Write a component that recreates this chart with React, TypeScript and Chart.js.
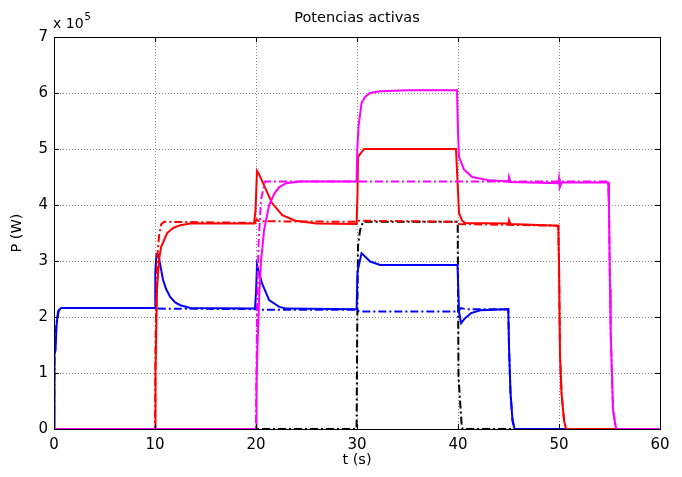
import React, { useEffect, useRef } from "react";
import { Chart, registerables } from "chart.js";

Chart.register(...registerables);

type Pt = [number, number];

// Axis ticks and texts
const X_TICKS = [0, 10, 20, 30, 40, 50, 60];
const Y_TICKS = [0, 1, 2, 3, 4, 5, 6, 7];
const TITLE = "Potencias activas";
const X_LABEL = "t (s)";
const Y_LABEL = "P (W)";
const Y_MULT = "x 10";
const Y_EXP = "5";

// Active powers, P in units of 10^5 W, t in s
const blueSolid: Pt[] = [
  [0, 0], [0.05, 1.35], [0.15, 1.4], [0.25, 1.85], [0.4, 2.1], [0.7, 2.16], [10, 2.16],
  [10.03, 2.8], [10.15, 3.12], [10.35, 3.1], [10.6, 2.85], [10.8, 2.66], [11.1, 2.5],
  [11.5, 2.36], [12, 2.26], [12.5, 2.21], [13.5, 2.16], [19.9, 2.15], [20, 2.43],
  [20.1, 2.93], [20.6, 2.6], [21.3, 2.3], [22.3, 2.18], [23, 2.15], [29.96, 2.14],
  [30.05, 2.81], [30.45, 3.14], [31.3, 2.99], [32.3, 2.93], [39.95, 2.93], [40.1, 2.1],
  [40.3, 1.89], [40.7, 1.98], [41.3, 2.07], [42.2, 2.12], [44.98, 2.14], [45.05, 1.47],
  [45.2, 0.64], [45.4, 0.15], [45.6, 0], [60, 0],
];
const blueDash: Pt[] = [
  [0, 0], [0.05, 1.35], [0.25, 1.9], [0.5, 2.14], [0.8, 2.16], [10, 2.16], [10.1, 2.22],
  [10.3, 2.15], [20, 2.14], [20.1, 2.18], [20.3, 2.13], [30, 2.13], [30.2, 2.1], [40, 2.1],
  [40.1, 2.12], [40.3, 2.16], [40.8, 2.14], [44.98, 2.14], [45.05, 1.47], [45.2, 0.64],
  [45.4, 0.15], [45.6, 0], [60, 0],
];
const redSolid: Pt[] = [
  [0, 0], [10, 0], [10.05, 1.0], [10.2, 2.5], [10.4, 3.02], [10.6, 3.25], [11.2, 3.5],
  [11.8, 3.59], [12.5, 3.64], [13.5, 3.67], [19.8, 3.67], [19.95, 3.9], [20.1, 4.61],
  [20.3, 4.55], [21, 4.27], [21.6, 4.03], [22.6, 3.82], [23.9, 3.72], [26, 3.67],
  [29.96, 3.66], [30.05, 4.2], [30.1, 4.86], [30.7, 5.0], [39.8, 5.0], [40.1, 3.86],
  [40.4, 3.72], [40.7, 3.68], [45, 3.67], [45.05, 3.73], [45.2, 3.66], [49.93, 3.63],
  [50.0, 2.96], [50.1, 1.32], [50.25, 0.64], [50.5, 0.15], [50.7, 0], [60, 0],
];
const redDash: Pt[] = [
  [0, 0], [10, 0], [10.05, 1.5], [10.2, 3.0], [10.4, 3.45], [10.6, 3.65], [10.9, 3.7],
  [19.9, 3.68], [20.05, 3.74], [20.3, 3.71], [30, 3.7], [30.1, 3.72], [39.9, 3.7],
  [40.1, 3.66], [49.93, 3.63], [50.0, 2.96], [50.1, 1.32], [50.25, 0.64], [50.5, 0.15],
  [50.7, 0], [60, 0],
];
const magentaSolid: Pt[] = [
  [0, 0], [20, 0], [20.05, 0.8], [20.15, 1.5], [20.3, 2.3], [20.5, 3.0], [20.8, 3.55],
  [21.3, 4.0], [21.8, 4.2], [22.3, 4.32], [23, 4.39], [24.3, 4.42], [29.96, 4.42],
  [30.03, 5.0], [30.15, 5.4], [30.45, 5.82], [30.8, 5.93], [31.3, 6.0], [32.3, 6.03],
  [35, 6.05], [39.9, 6.05], [40.0, 5.3], [40.1, 4.86], [40.6, 4.63], [41.4, 4.5],
  [43.1, 4.44], [45, 4.42], [45.05, 4.5], [45.2, 4.41], [49.95, 4.39], [50.0, 4.47],
  [50.08, 4.32], [50.25, 4.4], [54.88, 4.4], [54.95, 3.91], [55.05, 2.5], [55.12, 1.71],
  [55.35, 0.34], [55.6, 0.05], [55.7, 0], [60, 0],
];
const magentaDash: Pt[] = [
  [0, 0], [20, 0], [20.1, 2.0], [20.25, 3.3], [20.5, 4.1], [20.9, 4.42], [54.88, 4.42],
  [54.95, 3.91], [55.05, 2.5], [55.12, 1.71], [55.35, 0.34], [55.6, 0.05], [55.7, 0], [60, 0],
];
const blackDash: Pt[] = [
  [0, 0], [29.96, 0], [30.03, 2.0], [30.1, 3.26], [30.3, 3.55], [30.6, 3.7], [39.97, 3.7],
  [40.05, 0.93], [40.35, 0.1], [40.45, 0], [60, 0],
];

const FONT = "'DejaVu Sans', 'Liberation Sans', Arial, sans-serif";
const DASH_DOT = [8, 3, 2, 3];

const toXY = (pts: Pt[]) => pts.map(([x, y]) => ({ x, y }));

const framePlugin = {
  id: "matlabFrame",
  afterDatasetsDraw(chart: any) {
    const { ctx, chartArea, scales } = chart;
    const { left, right, top, bottom } = chartArea;
    const xs = scales.x;
    const ys = scales.y;
    ctx.save();
    ctx.strokeStyle = "#000";
    ctx.lineWidth = 1;
    ctx.beginPath();
    for (const v of X_TICKS) {
      const px = Math.round(xs.getPixelForValue(v)) + 0.5;
      ctx.moveTo(px, bottom);
      ctx.lineTo(px, bottom - 5);
      ctx.moveTo(px, top);
      ctx.lineTo(px, top + 5);
    }
    for (const v of Y_TICKS) {
      const py = Math.round(ys.getPixelForValue(v)) + 0.5;
      ctx.moveTo(left, py);
      ctx.lineTo(left + 5, py);
      ctx.moveTo(right, py);
      ctx.lineTo(right - 5, py);
    }
    ctx.stroke();
    ctx.strokeRect(Math.round(left) + 0.5, Math.round(top) + 0.5, Math.round(right - left), Math.round(bottom - top));
    ctx.fillStyle = "#000";
    ctx.textAlign = "left";
    ctx.textBaseline = "alphabetic";
    ctx.font = `14px ${FONT}`;
    ctx.fillText(Y_MULT, left - 1, 28);
    const w = ctx.measureText(Y_MULT).width;
    ctx.font = `10px ${FONT}`;
    ctx.fillText(Y_EXP, left - 1 + w + 1, 20);
    ctx.restore();
  },
};

export default function App() {
  const ref = useRef<HTMLCanvasElement | null>(null);

  useEffect(() => {
    document.body.style.margin = "0";
    const canvas = ref.current;
    if (!canvas) return;
    const solid = (data: Pt[], color: string) => ({
      data: toXY(data),
      borderColor: color,
      backgroundColor: color,
      borderWidth: 2,
      pointRadius: 0,
      fill: false,
      tension: 0,
    });
    const dash = (data: Pt[], color: string) => ({ ...solid(data, color), borderDash: DASH_DOT });

    const chart = new Chart(canvas, {
      type: "line",
      data: {
        datasets: [
          dash(magentaDash, "#FF00FF"),
          solid(magentaSolid, "#FF00FF"),
          dash(redDash, "#FF0000"),
          solid(redSolid, "#FF0000"),
          dash(blueDash, "#0000FF"),
          solid(blueSolid, "#0000FF"),
          dash(blackDash, "#000000"),
        ] as any,
      },
      options: {
        animation: false,
        responsive: false,
        maintainAspectRatio: false,
        layout: { padding: { left: 0, right: 22, top: 0, bottom: 0 } },
        plugins: {
          legend: { display: false },
          tooltip: { enabled: false },
          title: {
            display: true,
            text: TITLE,
            fullSize: false,
            color: "#000",
            font: { family: FONT, size: 14.5, weight: "normal" },
            padding: { top: 9.3, bottom: 10.3 },
          },
        },
        scales: {
          x: {
            type: "linear",
            min: 0,
            max: 60,
            afterBuildTicks: (s: any) => {
              s.ticks = X_TICKS.map((v) => ({ value: v }));
            },
            afterFit: (s: any) => {
              s.height = 48;
            },
            ticks: {
              color: "#000",
              font: { family: FONT, size: 15 },
              padding: 7,
              maxRotation: 0,
              autoSkip: false,
            },
            grid: { color: "rgba(0,0,0,0.45)", drawTicks: false, lineWidth: 1 },
            border: { display: false, dash: [1, 2] },
            title: {
              display: true,
              text: X_LABEL,
              color: "#000",
              font: { family: FONT, size: 14.5 },
              padding: { top: 0, bottom: 8 },
            },
          },
          y: {
            type: "linear",
            min: 0,
            max: 7,
            afterBuildTicks: (s: any) => {
              s.ticks = Y_TICKS.map((v) => ({ value: v }));
            },
            afterFit: (s: any) => {
              s.width = 54;
            },
            ticks: {
              color: "#000",
              font: { family: FONT, size: 15 },
              padding: 6,
              autoSkip: false,
            },
            grid: { color: "rgba(0,0,0,0.45)", drawTicks: false, lineWidth: 1 },
            border: { display: false, dash: [1, 2] },
            title: {
              display: true,
              text: Y_LABEL,
              color: "#000",
              font: { family: FONT, size: 14.5 },
              padding: { top: 8.5, bottom: 0 },
            },
          },
        },
      } as any,
      plugins: [framePlugin],
    });
    return () => chart.destroy();
  }, []);

  return (
    <div style={{ width: 682, height: 477, background: "#fff" }}>
      <canvas ref={ref} width={682} height={477} style={{ display: "block" }} />
    </div>
  );
}
